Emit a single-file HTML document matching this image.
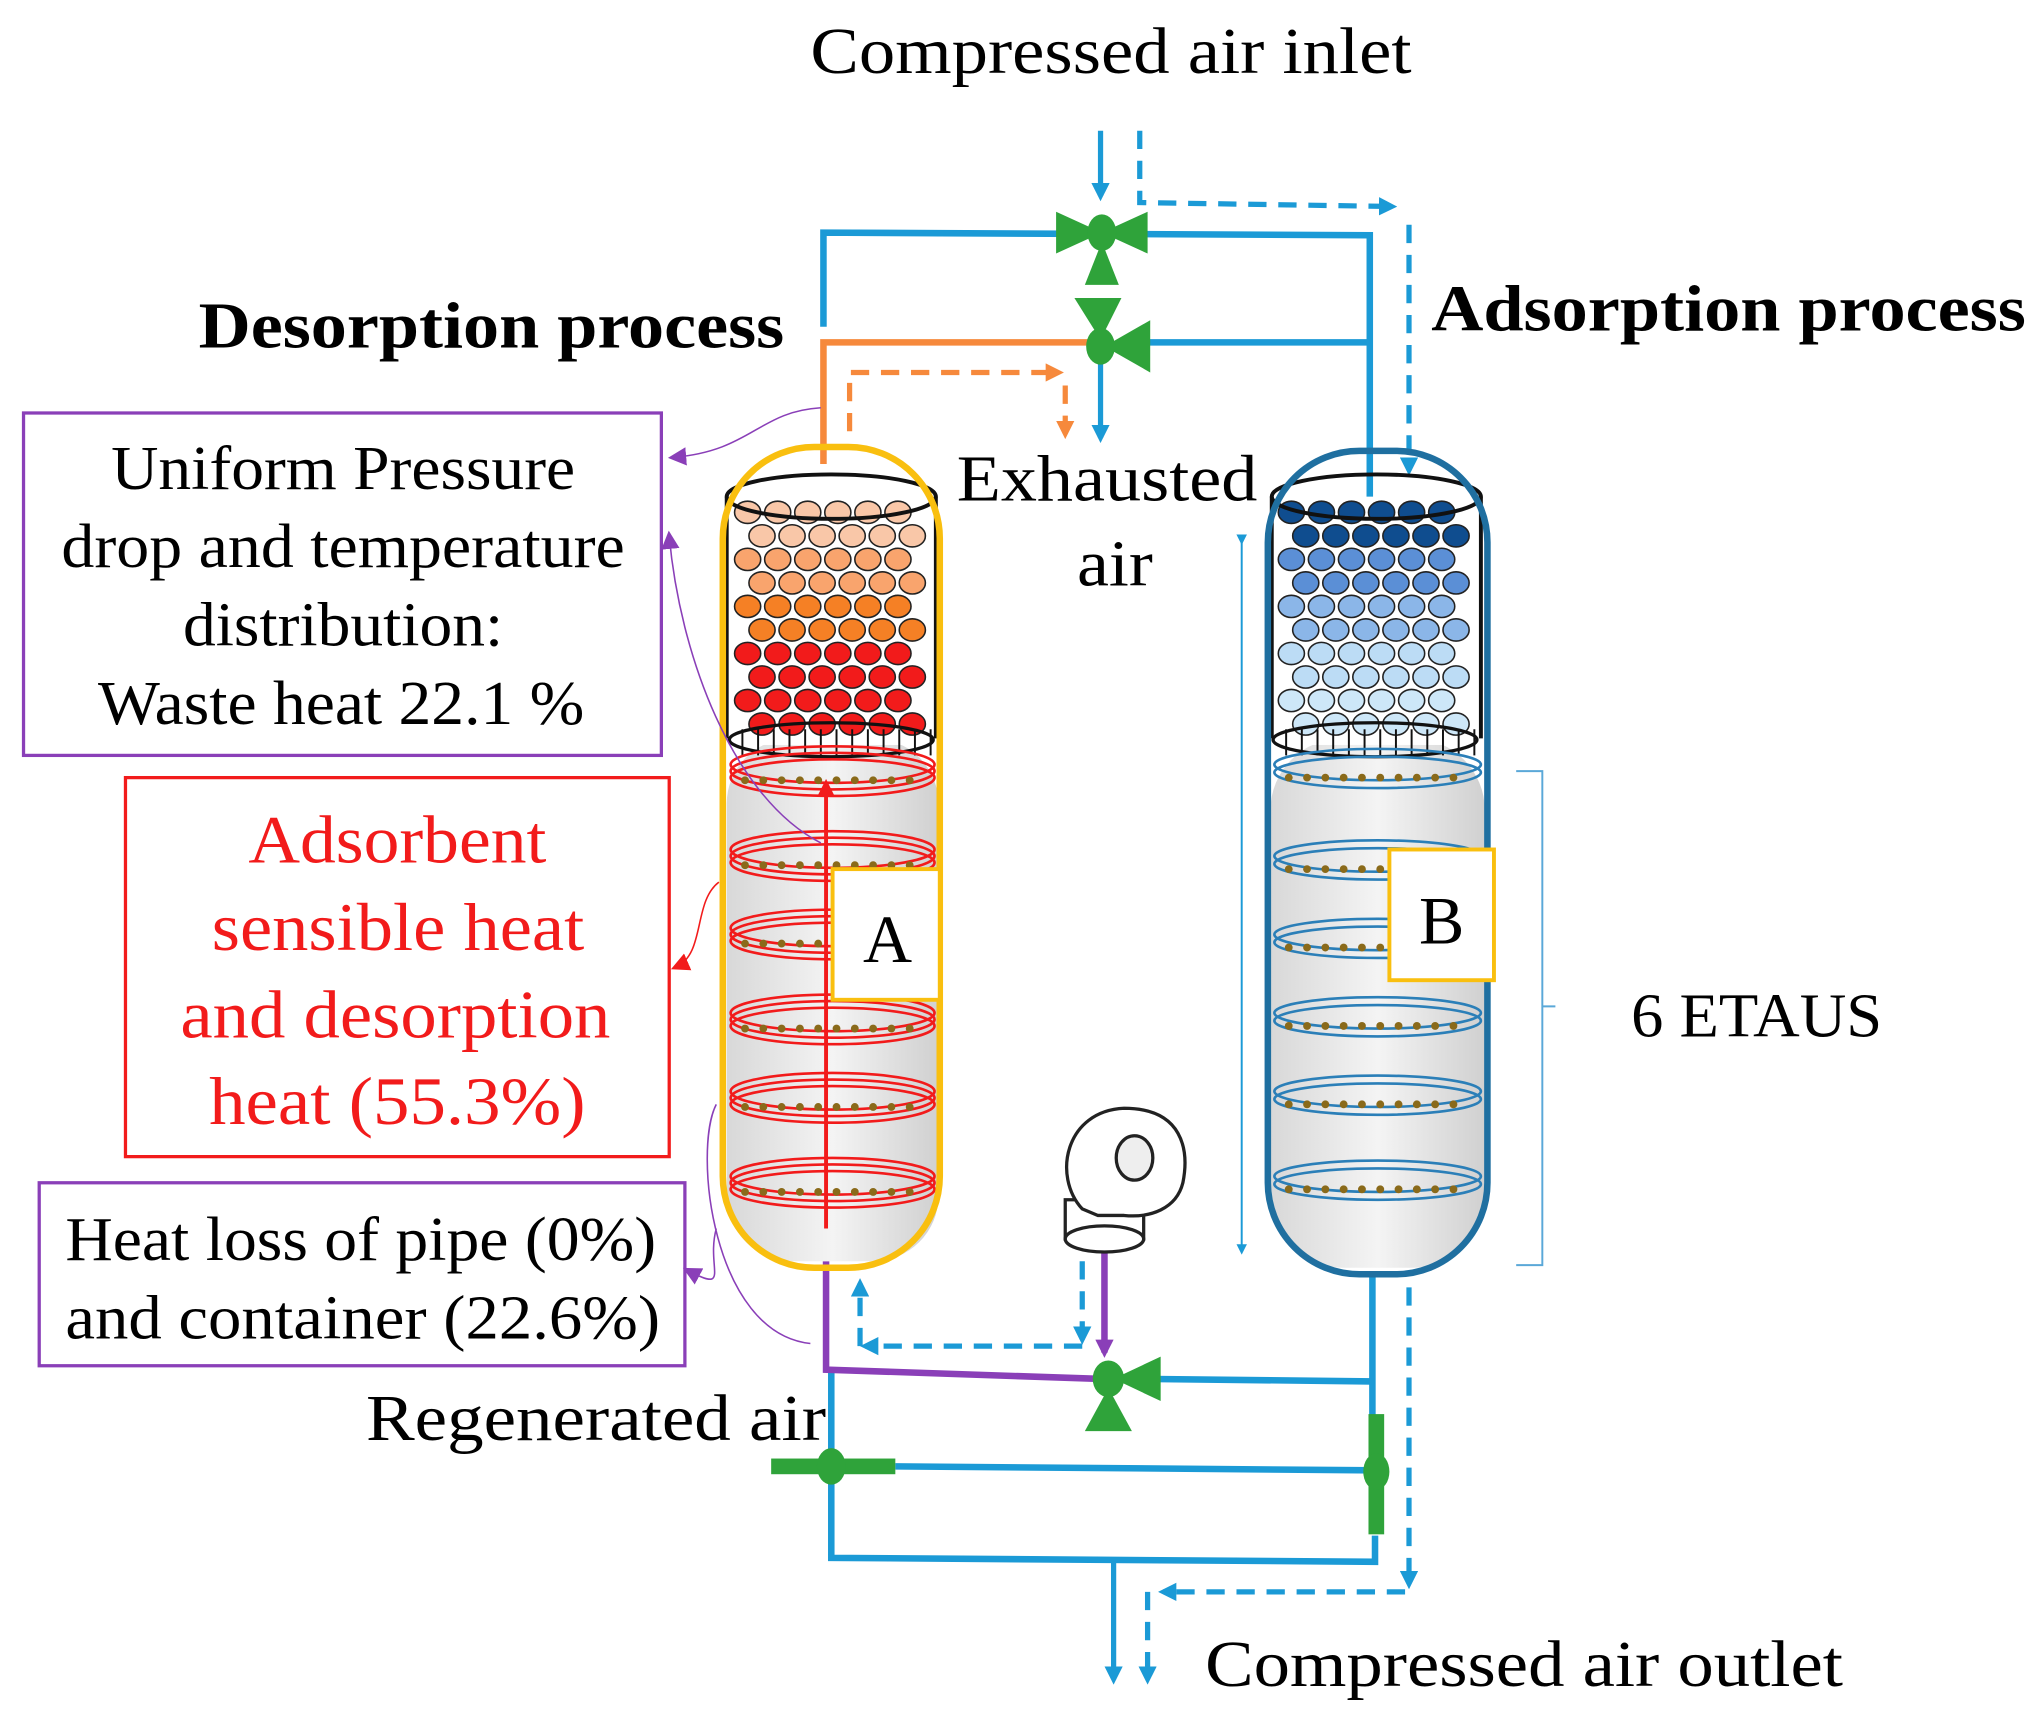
<!DOCTYPE html>
<html><head><meta charset="utf-8"><style>
html,body{margin:0;padding:0;background:#fff;}
svg{display:block;}
text{font-family:"Liberation Serif",serif;}
</style></head><body>
<svg id="s" width="2039" height="1716" viewBox="0 0 1560 1313" preserveAspectRatio="none" xmlns="http://www.w3.org/2000/svg">
<defs>
<marker id="ab" markerWidth="8" markerHeight="8" refX="6" refY="4" orient="auto" markerUnits="userSpaceOnUse"><path d="M0,0 L8,4 L0,8z" fill="#1b9ad6"/></marker>
<marker id="ao" markerWidth="14" markerHeight="14" refX="10" refY="7" orient="auto" markerUnits="userSpaceOnUse"><path d="M0,0 L14,7 L0,14z" fill="#f6893c"/></marker>
<marker id="ab2" markerWidth="14" markerHeight="14" refX="10" refY="7" orient="auto" markerUnits="userSpaceOnUse"><path d="M0,0 L14,7 L0,14z" fill="#1b9ad6"/></marker>
<marker id="ap" markerWidth="14" markerHeight="14" refX="10" refY="7" orient="auto" markerUnits="userSpaceOnUse"><path d="M0,0 L14,7 L0,14z" fill="#8a3fb8"/></marker>
<marker id="ar" markerWidth="14" markerHeight="14" refX="10" refY="7" orient="auto" markerUnits="userSpaceOnUse"><path d="M0,0 L14,7 L0,14z" fill="#f21b1b"/></marker>
<linearGradient id="gr" x1="0" x2="1"><stop offset="0" stop-color="#d8d8d8"/><stop offset=".5" stop-color="#f4f4f4"/><stop offset="1" stop-color="#d0d0d0"/></linearGradient>
</defs>

<!-- titles -->
<text x="620" y="56" font-size="50" textLength="460" lengthAdjust="spacingAndGlyphs">Compressed air inlet</text>
<text x="152" y="266" font-size="50" font-weight="bold" textLength="448" lengthAdjust="spacingAndGlyphs">Desorption process</text>
<text x="1095" y="253" font-size="50" font-weight="bold" textLength="455" lengthAdjust="spacingAndGlyphs">Adsorption process</text>
<text x="732" y="383" font-size="50" textLength="230" lengthAdjust="spacingAndGlyphs">Exhausted</text>
<text x="824" y="448" font-size="50" textLength="58" lengthAdjust="spacingAndGlyphs">air</text>
<text x="280" y="1102" font-size="50" textLength="352" lengthAdjust="spacingAndGlyphs">Regenerated air</text>
<text x="922" y="1290" font-size="50" textLength="488" lengthAdjust="spacingAndGlyphs">Compressed air outlet</text>
<text x="1248" y="793" font-size="48" textLength="192" lengthAdjust="spacingAndGlyphs">6 ETAUS</text>

<!-- pipes -->
<g fill="none" stroke="#1b9ad6" stroke-width="5">
<line x1="842" y1="100" x2="842" y2="150" stroke-width="4" marker-end="url(#ab2)"/>
<polyline points="630,250 630,178 1048,180 1048,395"/>
<line x1="855" y1="262" x2="1048" y2="262"/>
<line x1="842" y1="275" x2="842" y2="335" stroke-width="4" marker-end="url(#ab2)"/>
<line x1="870" y1="1055" x2="1050" y2="1057"/>
<line x1="1050" y1="975" x2="1050" y2="1085"/>
<line x1="685" y1="1122" x2="1050" y2="1125"/>
<polyline points="636,1050 636,1192 1052,1195 1052,1175"/>
<line x1="852" y1="1195" x2="852" y2="1285" stroke-width="4" marker-end="url(#ab2)"/>
</g>
<g fill="none" stroke="#1b9ad6" stroke-width="4" stroke-dasharray="14,9">
<polyline points="872,100 872,155 1065,158" marker-end="url(#ab2)"/>
<line x1="1078" y1="172" x2="1078" y2="360" marker-end="url(#ab2)"/>
<line x1="1078" y1="985" x2="1078" y2="1212" marker-end="url(#ab2)"/>
<line x1="1075" y1="1218" x2="890" y2="1218" marker-end="url(#ab2)"/>
<line x1="878" y1="1218" x2="878" y2="1285" marker-end="url(#ab2)"/>
<line x1="828" y1="965" x2="828" y2="1025" marker-end="url(#ab2)"/>
<line x1="828" y1="1030" x2="662" y2="1030" marker-end="url(#ab2)"/>
<line x1="658" y1="1030" x2="658" y2="982" marker-end="url(#ab2)"/>
</g>
<g fill="none" stroke="#f6893c" stroke-width="5">
<polyline points="630,355 630,262 832,262"/>
</g>
<g fill="none" stroke="#f6893c" stroke-width="4" stroke-dasharray="14,9">
<polyline points="650,330 650,285 810,285" marker-end="url(#ao)"/>
<line x1="815" y1="295" x2="815" y2="332" marker-end="url(#ao)"/>
</g>
<g fill="none" stroke="#8a3fb8" stroke-width="5">
<line x1="845" y1="948" x2="845" y2="1035" marker-end="url(#ap)"/>
<polyline points="632,965 632,1048 840,1055"/>
</g>
<line x1="950" y1="415" x2="950" y2="958" stroke="#1b9ad6" stroke-width="1.5" marker-start="url(#ab)" marker-end="url(#ab)"/>
<path d="M1160,590 H1180 V770 H1190 M1180,770 V968 H1160" fill="none" stroke="#5aa8d8" stroke-width="1.5"/>

<!-- valves -->
<g fill="#2fa33a">
<path d="M808,162 L843,178 L808,194z M878,162 L843,178 L878,194z"/><ellipse cx="843" cy="178" rx="11" ry="14"/><path d="M843,185 L830,218 L856,218z"/>
<path d="M822,228 L858,228 L842,260z"/><path d="M880,245 L845,265 L880,285z"/><ellipse cx="842" cy="265" rx="11" ry="14"/>
<path d="M888,1038 L852,1055 L888,1072z"/><ellipse cx="848" cy="1055" rx="12" ry="14"/><path d="M848,1062 L830,1095 L866,1095z"/>
<rect x="590" y="1116" width="95" height="12"/><ellipse cx="636" cy="1122" rx="11" ry="14"/>
<rect x="1047" y="1082" width="12" height="92"/><ellipse cx="1053" cy="1126" rx="10" ry="14"/>
</g>

<!-- fan -->
<g fill="#fff" stroke="#222" stroke-width="2.5">
<rect x="815" y="918" width="60" height="30"/>
<ellipse cx="845" cy="948" rx="30" ry="10"/>
<path d="M828,925 C805,900 815,850 860,848 C905,848 910,880 905,905 C900,925 880,932 860,930 L840,930z"/>
<ellipse cx="868" cy="886" rx="14" ry="17" fill="#eee"/>
</g>

<!-- cylinder bodies -->
<rect x="556" y="565" width="162" height="400" rx="50" fill="url(#gr)"/>
<rect x="556" y="380" width="162" height="190" fill="#fff"/>
<rect x="972" y="565" width="164" height="405" rx="55" fill="url(#gr)"/>
<rect x="972" y="380" width="164" height="190" fill="#fff"/>

<g id="balls"></g>
<g id="grid"></g>
<g id="rings"></g>
<line x1="632" y1="940" x2="632" y2="600" stroke="#f21b1b" stroke-width="3" marker-end="url(#ar)"/>
<ellipse cx="636" cy="380" rx="80" ry="17" fill="none" stroke="#111" stroke-width="3"/>
<path d="M556,380 V565 M716,380 V565" stroke="#111" stroke-width="3" fill="none"/>
<rect x="553" y="342" width="166" height="628" rx="70" fill="none" stroke="#f9bf0f" stroke-width="5"/>
<rect x="637" y="665" width="82" height="100" fill="#fff" stroke="#f9bf0f" stroke-width="3"/>
<text x="679" y="736" font-size="52" text-anchor="middle" font-family="Liberation Sans,sans-serif">A</text>

<ellipse cx="1053" cy="380" rx="80" ry="17" fill="none" stroke="#111" stroke-width="3"/>
<path d="M973,380 V565 M1133,380 V565" stroke="#111" stroke-width="3" fill="none"/>
<rect x="970" y="345" width="168" height="630" rx="70" fill="none" stroke="#1f6fa0" stroke-width="5"/>
<rect x="1063" y="650" width="80" height="100" fill="#fff" stroke="#f9bf0f" stroke-width="3"/>
<text x="1103" y="722" font-size="52" text-anchor="middle" font-family="Liberation Sans,sans-serif">B</text>

<!-- boxes -->
<rect x="18" y="316" width="488" height="262" fill="#fff" stroke="#8a3fb8" stroke-width="2.5"/>
<g font-size="48">
<text x="85" y="374" textLength="355" lengthAdjust="spacingAndGlyphs">Uniform Pressure</text>
<text x="47" y="434" textLength="431" lengthAdjust="spacingAndGlyphs">drop and temperature</text>
<text x="140" y="494" textLength="245" lengthAdjust="spacingAndGlyphs">distribution:</text>
<text x="75" y="554" textLength="372" lengthAdjust="spacingAndGlyphs">Waste heat 22.1 %</text>
</g>
<rect x="96" y="595" width="416" height="290" fill="#fff" stroke="#f21b1b" stroke-width="2.5"/>
<g font-size="52" fill="#f21b1b">
<text x="190" y="660" textLength="228" lengthAdjust="spacingAndGlyphs">Adsorbent</text>
<text x="162" y="727" textLength="285" lengthAdjust="spacingAndGlyphs">sensible heat</text>
<text x="138" y="794" textLength="329" lengthAdjust="spacingAndGlyphs">and desorption</text>
<text x="160" y="860" textLength="288" lengthAdjust="spacingAndGlyphs">heat (55.3%)</text>
</g>
<rect x="30" y="905" width="494" height="140" fill="#fff" stroke="#8a3fb8" stroke-width="2.5"/>
<g font-size="48">
<text x="50" y="964" textLength="452" lengthAdjust="spacingAndGlyphs">Heat loss of pipe (0%)</text>
<text x="50" y="1024" textLength="455" lengthAdjust="spacingAndGlyphs">and container (22.6%)</text>
</g>
<g fill="none" stroke="#8a3fb8" stroke-width="1.2">
<path d="M628,312 C580,315 575,345 515,350" marker-end="url(#ap)"/>
<path d="M628,645 C560,610 520,500 512,410" marker-end="url(#ap)"/>
<path d="M548,845 C530,880 545,1020 620,1028 M548,940 C540,970 560,990 526,972" marker-end="url(#ap)"/>
<path d="M550,675 C530,690 540,730 517,740" stroke="#f21b1b" marker-end="url(#ar)"/>
</g>
</svg>
<script>
(function(){
var ns="http://www.w3.org/2000/svg",b=document.getElementById("balls"),r=document.getElementById("rings"),g=document.getElementById("grid");
function mk(t,a){var e=document.createElementNS(ns,t);for(var k in a)e.setAttribute(k,a[k]);return e;}
function fill(x0,cols){var y=392,row=0;while(y<556){var off=(row%2)*11;for(var x=x0+14+off;x<x0+150;x+=23){var t=(y-385)/171,col=cols[Math.min(cols.length-1,Math.floor(t*cols.length))];b.appendChild(mk("ellipse",{cx:x,cy:y,rx:10,ry:8.5,fill:col,stroke:"#222","stroke-width":1.2}));}y+=18;row++;}}
fill(558,["#f9c7a8","#f9a46d","#f58025","#f21b1b","#f21b1b"]);
fill(974,["#0f4d8f","#5b8fd6","#8bb6e8","#bcdcf5","#cde7f8"]);
[558,974].forEach(function(x0){for(var x=x0+10;x<x0+160;x+=12){g.appendChild(mk("line",{x1:x,x2:x,y1:558,y2:578,stroke:"#111","stroke-width":1.5}));}
g.appendChild(mk("ellipse",{cx:x0+78,cy:566,rx:78,ry:13,fill:"none",stroke:"#111","stroke-width":2.5}));});
function dot(x,y){return mk("circle",{cx:x,cy:y,r:3,fill:"#8a6a1a"});}
[585,650,710,775,835,900].forEach(function(y){for(var i=0;i<3;i++)r.appendChild(mk("ellipse",{cx:637,cy:y+i*5,rx:78,ry:14,fill:"none",stroke:"#f21b1b","stroke-width":2}));for(var x=570;x<710;x+=14)r.appendChild(dot(x,y+12));});
[585,655,715,775,835,900].forEach(function(y){for(var i=0;i<2;i++)r.appendChild(mk("ellipse",{cx:1054,cy:y+i*6,rx:79,ry:12,fill:"none",stroke:"#2b7fb8","stroke-width":2}));for(var x=986;x<1126;x+=14)r.appendChild(dot(x,y+10));});
})();
</script>
</body></html>
